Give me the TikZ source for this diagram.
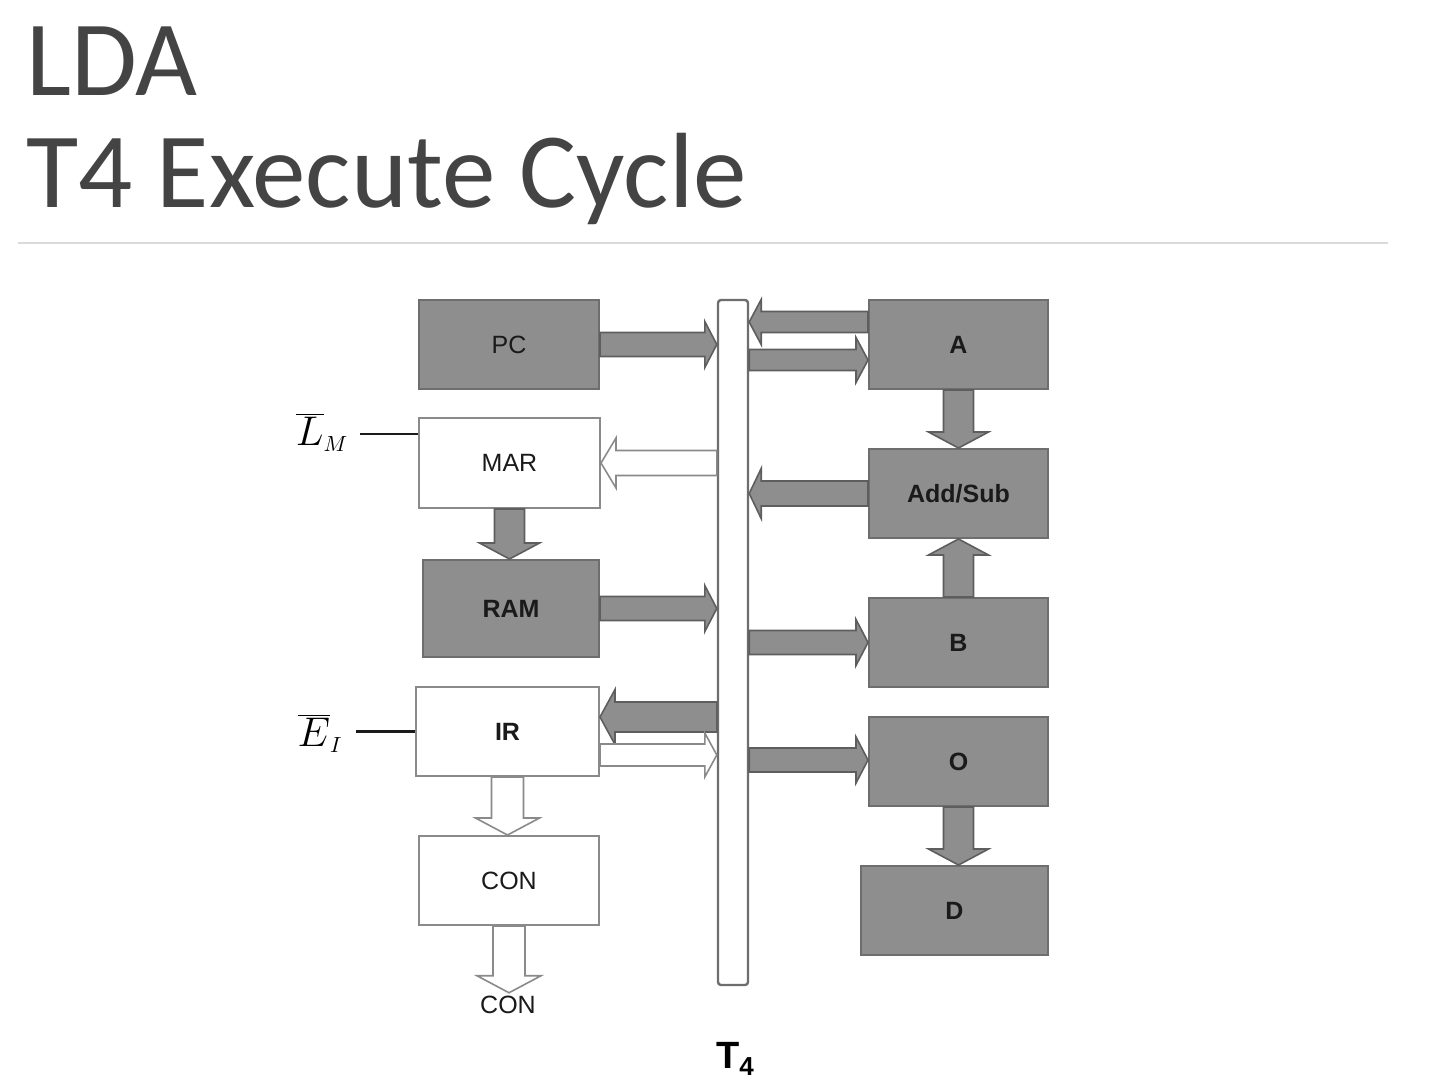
\documentclass[tikz,border=0pt]{standalone}
\usepackage{fontspec}
\setmainfont{Liberation Sans}
\newfontfamily\titlefont{Carlito}
\usetikzlibrary{calc}
\definecolor{boxgray}{HTML}{8E8E8E}
\definecolor{boxline}{HTML}{6E6E6E}
\definecolor{arrline}{HTML}{5E5E5E}
\definecolor{wline}{HTML}{8A8A8A}
\definecolor{titlecol}{HTML}{444444}
\definecolor{rulecol}{HTML}{DADADA}
\definecolor{txtcol}{HTML}{1A1A1A}
% block arrow: style, from, to, shaft half width, head half width, head length
\newcommand\blk[6]{%
  \path[#1] let \p1=(#2), \p2=(#3), \n1={atan2(\y2-\y1,\x2-\x1)}, \n2={veclen(\x2-\x1,\y2-\y1)} in
  [shift={(\p1)}, rotate=\n1] (0pt,-#4) -- ({\n2-#6},-#4) -- ({\n2-#6},-#5) -- ({\n2+0pt},0pt)
  -- ({\n2-#6},#5) -- ({\n2-#6},#4) -- (0pt,#4) -- cycle;}
\begin{document}
\begin{tikzpicture}[x=0.5pt,y=-0.5pt,
  gbox/.style={draw=boxline, fill=boxgray, line width=1pt, inner sep=0pt, text=txtcol,
    font=\fontsize{12.5}{15}\selectfont},
  wbox/.style={draw=wline, fill=white, line width=1pt, inner sep=0pt, text=txtcol,
    font=\fontsize{12.5}{15}\selectfont},
  gblk/.style={fill=boxgray, draw=arrline, line width=0.8pt, line join=miter},
  wblk/.style={fill=white, draw=wline, line width=0.8pt, line join=miter},
  ctl/.style={draw=txtcol, line width=1.2pt}]
\useasboundingbox (0,0) rectangle (1440,1082);
\fill[white] (0,0) rectangle (1440,1082);

% title
\node[anchor=base west, inner sep=0pt, text=titlecol, font=\titlefont\fontsize{53.5}{60}\selectfont] (t1) at (26,95) {LDA};
\node[anchor=base west, inner sep=0pt, text=titlecol, font=\titlefont\fontsize{53.5}{60}\selectfont] (t2) at (26,207) {T4 Execute Cycle};
\draw[rulecol, line width=1.2pt] (18,243) -- (1388,243);

% bus
\node[draw=boxline, fill=white, line width=1.2pt, rounded corners=1.5pt, minimum width=15pt, minimum height=342.5pt, inner sep=0pt] (bus) at (733,642.5) {};

% left column
\node[gbox, minimum width=90pt, minimum height=44.5pt] (pc) at (509,344.5) {PC};
\node[wbox, minimum width=90.5pt, minimum height=45pt] (mar) at (509.5,463) {MAR};
\node[gbox, minimum width=88pt, minimum height=48.5pt, font=\fontsize{12.5}{15}\selectfont\bfseries] (ram) at (511,608.5) {RAM};
\node[wbox, minimum width=91.5pt, minimum height=44.5pt, font=\fontsize{12.5}{15}\selectfont\bfseries] (ir) at (507.5,731.5) {IR};
\node[wbox, minimum width=90pt, minimum height=44.5pt] (con) at (509,880.5) {CON};
\node[inner sep=0pt, text=txtcol, font=\fontsize{12.5}{15}\selectfont] (conout) at (508,1005) {CON};

% right column
\node[gbox, minimum width=89.5pt, minimum height=44.5pt, font=\fontsize{12.5}{15}\selectfont\bfseries] (a) at (958.5,344.5) {A};
\node[gbox, minimum width=89.5pt, minimum height=44.5pt, font=\fontsize{12.5}{15}\selectfont\bfseries] (as) at (958.5,493.5) {Add/Sub};
\node[gbox, minimum width=89.5pt, minimum height=44.5pt, font=\fontsize{12.5}{15}\selectfont\bfseries] (b) at (958.5,642.5) {B};
\node[gbox, minimum width=89.5pt, minimum height=44.5pt, font=\fontsize{12.5}{15}\selectfont\bfseries] (o) at (958.5,761.5) {O};
\node[gbox, minimum width=93.5pt, minimum height=44.5pt, font=\fontsize{12.5}{15}\selectfont\bfseries] (d) at (954.5,910.5) {D};

% control labels
\node[inner sep=0pt, font=\fontsize{21}{24}\selectfont] (lm) at (322,432) {$\overline{L}_{\scriptscriptstyle M}$};
\node[inner sep=0pt, font=\fontsize{21}{24}\selectfont] (ei) at (320,733) {$\overline{E}_{\scriptscriptstyle I}$};
\coordinate (lmend) at (360,434);
\coordinate (eiend) at (356,731.5);
\draw[ctl] (lmend) -- (lmend -| mar.west);
\draw[ctl] (eiend) -- (ir.west);

% T4 label
\node[inner sep=0pt, anchor=base, font=\fontsize{19}{22}\selectfont\bfseries] (t4) at (735,1068) {T\raisebox{-0.35ex}{\fontsize{13}{15}\selectfont 4}};

% arrows, left side
\blk{gblk}{pc.east}{bus.west |- pc.east}{6pt}{11.5pt}{6pt}
\blk{wblk}{bus.west |- mar.east}{mar.east}{6.25pt}{12.5pt}{7.5pt}
\blk{gblk}{mar.south}{mar.south |- ram.north}{7.5pt}{15pt}{8pt}
\blk{gblk}{ram.east}{bus.west |- ram.east}{6pt}{11.5pt}{6pt}
\blk{gblk}{$(bus.west |- ir.east)+(0,-14.5)$}{$(ir.east)+(0,-14.5)$}{7.5pt}{13.75pt}{7.5pt}
\blk{wblk}{$(ir.east)+(0,23.5)$}{$(bus.west |- ir.east)+(0,23.5)$}{5.5pt}{11pt}{6pt}
\blk{wblk}{ir.south}{ir.south |- con.north}{8pt}{16pt}{8.5pt}
\blk{wblk}{con.south}{$(con.south |- conout.north)+(0,-3)$}{8pt}{16pt}{8.5pt}

% arrows, right side
\blk{gblk}{$(a.west)+(0,-22.5)$}{$(bus.east |- a.west)+(0,-22.5)$}{5.25pt}{11.25pt}{6pt}
\blk{gblk}{$(bus.east |- a.west)+(0,15.5)$}{$(a.west)+(0,15.5)$}{5.25pt}{11.25pt}{6pt}
\blk{gblk}{a.south}{as.north}{7.5pt}{15pt}{8pt}
\blk{gblk}{as.west}{bus.east |- as.west}{6.25pt}{12.5pt}{6pt}
\blk{gblk}{b.north}{as.south}{7.5pt}{15pt}{8pt}
\blk{gblk}{bus.east |- b.west}{b.west}{6pt}{11.5pt}{6pt}
\blk{gblk}{$(bus.east |- o.west)+(0,-1.5)$}{$(o.west)+(0,-1.5)$}{6pt}{11.5pt}{6pt}
\blk{gblk}{o.south}{o.south |- d.north}{7.5pt}{15pt}{8pt}
\end{tikzpicture}
\end{document}
